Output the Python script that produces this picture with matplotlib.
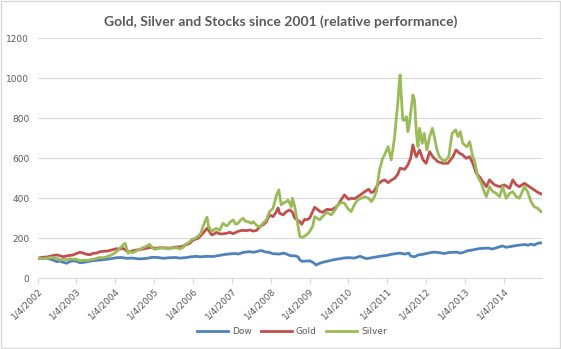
import matplotlib.pyplot as plt
from matplotlib.patches import Rectangle

# Time is in decimal years, whole years sit on the 4 January of that year
dow_t = [2002.00, 2002.12, 2002.22, 2002.32, 2002.42, 2002.49, 2002.56, 2002.66, 2002.75, 2002.83,
         2002.92, 2003.00, 2003.09, 2003.20, 2003.30, 2003.43, 2003.52, 2003.65, 2003.78, 2003.95,
         2004.03, 2004.15, 2004.29, 2004.45, 2004.60, 2004.80, 2004.95, 2005.10, 2005.23, 2005.40,
         2005.55, 2005.66, 2005.80, 2005.92, 2006.10, 2006.17, 2006.35, 2006.52, 2006.70, 2006.85,
         2006.95, 2007.10, 2007.16, 2007.30, 2007.46, 2007.55, 2007.65, 2007.76, 2007.85, 2007.95,
         2008.06, 2008.15, 2008.23, 2008.32, 2008.40, 2008.50, 2008.62, 2008.70, 2008.75, 2008.80,
         2008.87, 2008.95, 2009.00, 2009.10, 2009.17, 2009.22, 2009.34, 2009.45, 2009.60, 2009.75,
         2009.90, 2010.03, 2010.15, 2010.30, 2010.38, 2010.46, 2010.55, 2010.72, 2010.85, 2011.00,
         2011.10, 2011.32, 2011.45, 2011.55, 2011.60, 2011.70, 2011.80, 2011.92, 2012.05, 2012.20,
         2012.35, 2012.45, 2012.60, 2012.78, 2012.88, 2012.95, 2013.05, 2013.20, 2013.35, 2013.48,
         2013.60, 2013.70, 2013.80, 2013.97, 2014.05, 2014.15, 2014.30, 2014.45, 2014.55, 2014.62,
         2014.70, 2014.78, 2014.87, 2014.96]
dow = [100, 98, 101, 96, 90, 83, 86, 80, 75, 84,
       87, 85, 78, 80, 84, 88, 90, 92, 95, 100,
       103, 104, 100, 101, 97, 99, 105, 104, 100, 103,
       104, 101, 103, 107, 110, 107, 110, 109, 115, 120,
       122, 124, 121, 130, 133, 130, 134, 139, 132, 130,
       123, 122, 121, 126, 122, 113, 112, 108, 92, 85,
       86, 86, 88, 78, 66, 72, 80, 85, 92, 97,
       102, 103, 101, 110, 104, 98, 101, 107, 111, 115,
       120, 126, 121, 126, 112, 107, 117, 120, 126, 131,
       128, 124, 129, 131, 126, 129, 137, 142, 148, 150,
       151, 146, 152, 162, 155, 158, 163, 167, 169, 165,
       171, 166, 175, 177]

gold_t = [2002.00, 2002.12, 2002.23, 2002.40, 2002.49, 2002.60, 2002.66, 2002.78, 2002.92, 2003.00,
          2003.09, 2003.18, 2003.26, 2003.35, 2003.43, 2003.52, 2003.60, 2003.69, 2003.80, 2003.90,
          2004.03, 2004.12, 2004.20, 2004.27, 2004.33, 2004.40, 2004.50, 2004.60, 2004.68, 2004.80,
          2004.93, 2005.03, 2005.10, 2005.20, 2005.30, 2005.40, 2005.50, 2005.62, 2005.70, 2005.79,
          2005.92, 2005.96, 2006.05, 2006.13, 2006.22, 2006.30, 2006.36, 2006.40, 2006.48, 2006.55,
          2006.60, 2006.69, 2006.77, 2006.86, 2006.95, 2007.03, 2007.16, 2007.29, 2007.38, 2007.46,
          2007.55, 2007.64, 2007.72, 2007.82, 2007.89, 2007.97, 2008.06, 2008.15, 2008.19, 2008.23,
          2008.32, 2008.40, 2008.49, 2008.56, 2008.62, 2008.70, 2008.75, 2008.80, 2008.87, 2008.92,
          2009.00, 2009.13, 2009.20, 2009.26, 2009.34, 2009.45, 2009.56, 2009.65, 2009.73, 2009.82,
          2009.90, 2010.00, 2010.07, 2010.16, 2010.24, 2010.33, 2010.42, 2010.52, 2010.59, 2010.66,
          2010.76, 2010.85, 2010.93, 2011.02, 2011.10, 2011.19, 2011.27, 2011.33, 2011.45, 2011.53,
          2011.60, 2011.66, 2011.72, 2011.75, 2011.83, 2011.92, 2012.00, 2012.09, 2012.17, 2012.30,
          2012.43, 2012.56, 2012.69, 2012.77, 2012.86, 2012.94, 2013.03, 2013.12, 2013.20, 2013.29,
          2013.37, 2013.46, 2013.55, 2013.63, 2013.76, 2013.89, 2014.01, 2014.15, 2014.23, 2014.32,
          2014.40, 2014.53, 2014.66, 2014.78, 2014.87, 2014.96]
gold = [100, 105, 106, 114, 117, 111, 108, 113, 117, 124,
        130, 126, 120, 118, 125, 126, 133, 135, 136, 141,
        148, 146, 150, 140, 133, 135, 140, 143, 145, 150,
        155, 150, 152, 153, 152, 150, 155, 157, 158, 165,
        175, 185, 195, 200, 217, 235, 250, 240, 217, 222,
        230, 222, 222, 225, 230, 223, 235, 240, 238, 242,
        236, 240, 258, 270, 283, 317, 308, 335, 352, 325,
        317, 333, 342, 330, 300, 290, 283, 270, 295, 292,
        300, 355, 345, 335, 330, 345, 342, 352, 365, 395,
        417, 395, 400, 398, 408, 420, 433, 445, 428, 435,
        470, 485, 492, 478, 490, 500, 520, 550, 545, 567,
        600, 667, 620, 608, 642, 592, 575, 633, 608, 583,
        575, 575, 608, 642, 625, 617, 600, 608, 575, 525,
        508, 483, 458, 492, 467, 458, 467, 450, 492, 467,
        458, 475, 458, 442, 430, 422]

silver_t = [2002.00, 2002.12, 2002.23, 2002.32, 2002.40, 2002.49, 2002.58, 2002.66, 2002.75, 2002.83,
            2002.92, 2003.00, 2003.09, 2003.18, 2003.26, 2003.35, 2003.43, 2003.52, 2003.60, 2003.69,
            2003.78, 2003.88, 2003.95, 2004.03, 2004.12, 2004.20, 2004.25, 2004.29, 2004.33, 2004.38,
            2004.45, 2004.50, 2004.60, 2004.68, 2004.80, 2004.88, 2004.93, 2005.00, 2005.10, 2005.20,
            2005.30, 2005.36, 2005.45, 2005.55, 2005.62, 2005.66, 2005.75, 2005.79, 2005.90, 2005.96,
            2006.05, 2006.13, 2006.20, 2006.26, 2006.32, 2006.36, 2006.40, 2006.48, 2006.55, 2006.60,
            2006.69, 2006.77, 2006.86, 2006.90, 2006.95, 2007.03, 2007.10, 2007.16, 2007.22, 2007.29,
            2007.35, 2007.42, 2007.50, 2007.55, 2007.65, 2007.72, 2007.80, 2007.89, 2007.97, 2008.06,
            2008.15, 2008.21, 2008.27, 2008.32, 2008.40, 2008.44, 2008.49, 2008.53, 2008.56, 2008.62,
            2008.70, 2008.75, 2008.83, 2008.92, 2009.00, 2009.08, 2009.13, 2009.20, 2009.26, 2009.34,
            2009.45, 2009.56, 2009.65, 2009.73, 2009.82, 2009.90, 2009.98, 2010.07, 2010.16, 2010.24,
            2010.33, 2010.42, 2010.52, 2010.59, 2010.66, 2010.72, 2010.80, 2010.88, 2010.93, 2011.02,
            2011.10, 2011.14, 2011.19, 2011.23, 2011.27, 2011.30, 2011.33, 2011.37, 2011.40, 2011.44,
            2011.49, 2011.53, 2011.56, 2011.60, 2011.66, 2011.70, 2011.75, 2011.79, 2011.83, 2011.90,
            2011.95, 2012.02, 2012.09, 2012.16, 2012.22, 2012.28, 2012.34, 2012.47, 2012.58, 2012.67,
            2012.76, 2012.82, 2012.88, 2012.94, 2013.05, 2013.12, 2013.20, 2013.24, 2013.33, 2013.42,
            2013.50, 2013.55, 2013.63, 2013.72, 2013.80, 2013.89, 2013.97, 2014.06, 2014.15, 2014.23,
            2014.32, 2014.40, 2014.53, 2014.61, 2014.70, 2014.78, 2014.87, 2014.96]
silver = [100, 98, 101, 103, 105, 100, 92, 95, 93, 97,
          96, 95, 88, 90, 90, 92, 95, 100, 104, 103,
          108, 115, 122, 133, 150, 167, 175, 150, 125, 133,
          128, 133, 142, 150, 160, 170, 158, 145, 148, 152,
          150, 147, 150, 153, 150, 147, 155, 167, 180, 192,
          200, 210, 225, 260, 290, 305, 260, 233, 245, 250,
          240, 275, 262, 267, 280, 292, 270, 275, 290, 300,
          285, 283, 275, 283, 262, 258, 275, 292, 333, 350,
          417, 442, 367, 375, 383, 392, 375, 358, 400, 358,
          267, 208, 205, 217, 233, 260, 308, 300, 292, 310,
          330, 317, 340, 367, 380, 375, 350, 333, 370, 392,
          400, 408, 400, 383, 405, 433, 542, 600, 617, 658,
          592, 640, 708, 800, 870, 958, 1017, 880, 792, 790,
          808, 733, 760, 825, 917, 892, 725, 658, 750, 675,
          725, 642, 708, 750, 700, 642, 608, 583, 608, 725,
          742, 708, 733, 675, 658, 683, 608, 590, 508, 475,
          430, 408, 458, 433, 425, 408, 458, 400, 425, 433,
          408, 400, 458, 433, 383, 358, 350, 333]

years = list(range(2002, 2015))
year_labels = ["1/4/%d" % y for y in years]

text_grey = "#595959"
grid_grey = "#D9D9D9"

fig = plt.figure(figsize=(5.61, 3.49), dpi=100)
ax = fig.add_axes([0.067, 0.2026, 0.899, 0.6877])

ax.plot(dow_t, dow, color="#4F81BD", lw=2.0, label="Dow", solid_joinstyle="round")
ax.plot(gold_t, gold, color="#C0504D", lw=2.0, label="Gold", solid_joinstyle="round")
ax.plot(silver_t, silver, color="#9BBB59", lw=2.0, label="Silver", solid_joinstyle="round")

ax.set_xlim(2002, 2014.98)
ax.set_ylim(0, 1200)
ax.set_yticks(range(0, 1201, 200))
ax.set_xticks(years)
ax.set_xticklabels(year_labels, rotation=45, ha="right", rotation_mode="anchor")

ax.grid(axis="y", color=grid_grey, lw=0.8)
ax.set_axisbelow(True)
for side in ["top", "right", "left"]:
    ax.spines[side].set_visible(False)
ax.spines["bottom"].set_color(grid_grey)
ax.tick_params(axis="x", colors=text_grey, labelsize=6.5, length=4, color=grid_grey, pad=2)
ax.tick_params(axis="y", colors=text_grey, labelsize=6.5, length=0, pad=6)

fig.suptitle("Gold, Silver and Stocks since 2001 (relative performance)", y=0.955,
             fontsize=10, fontweight="bold", color=text_grey, family="Lato")

fig.legend(loc="center", bbox_to_anchor=(0.52, 0.05), ncol=3, frameon=False,
           fontsize=6.5, labelcolor=text_grey, handlelength=3.5, columnspacing=1.0,
           handletextpad=0.4)

# thin frame round the whole chart
fig.patches.append(Rectangle((0.001, 0.002), 0.997, 0.995, transform=fig.transFigure,
                             fill=False, edgecolor=grid_grey, lw=1.0))

fig.savefig("out.png", dpi=100)
